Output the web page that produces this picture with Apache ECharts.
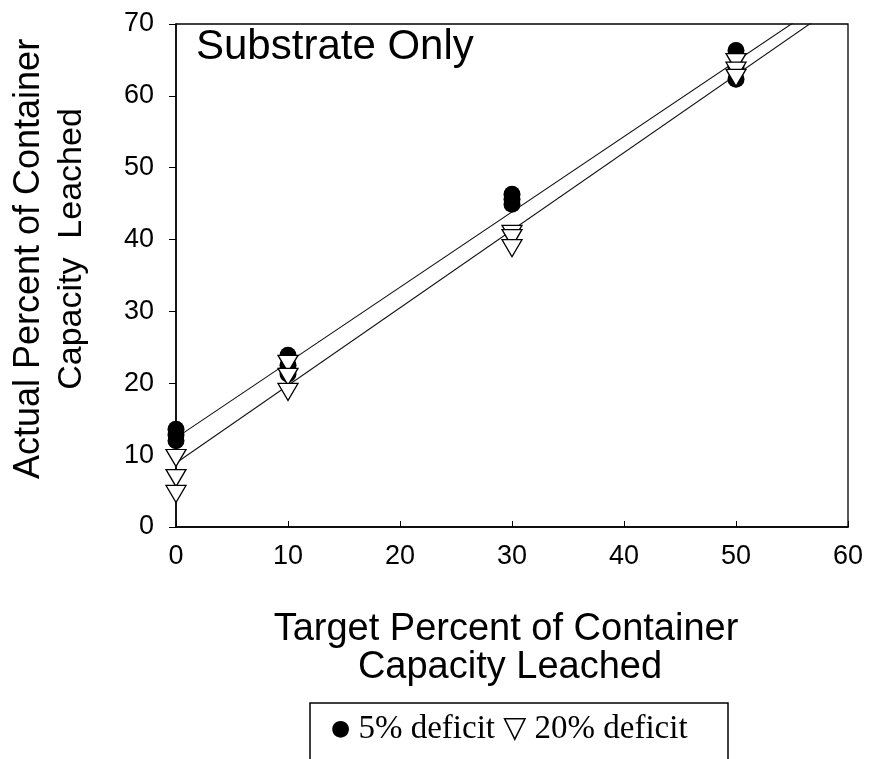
<!DOCTYPE html>
<html>
<head>
<meta charset="utf-8">
<script src="https://cdn.jsdelivr.net/npm/echarts@6/dist/echarts.min.js"></script>
<style>
  html, body { margin: 0; padding: 0; background: #ffffff; }
  #chart { width: 870px; height: 759px; }
</style>
</head>
<body>
<div id="chart"></div>
<script>
// Axis ticks
const xTicks = [0, 10, 20, 30, 40, 50, 60];
const yTicks = [0, 10, 20, 30, 40, 50, 60, 70];

// Target vs. actual percent leached, 5% water deficit (filled circles)
const deficit5 = [
  [0, 13.6], [0, 12.8], [0, 12.0],
  [10, 23.9], [10, 22.5], [10, 21.3],
  [30, 46.3], [30, 45.6], [30, 44.9],
  [50, 66.3], [50, 64.0], [50, 62.3]
];

// Target vs. actual percent leached, 20% water deficit (open down-triangles)
const deficit20 = [
  [0, 9.6], [0, 6.8], [0, 4.6],
  [10, 22.7], [10, 20.9], [10, 18.8],
  [30, 40.8], [30, 40.2], [30, 38.8],
  [50, 64.7], [50, 63.5], [50, 62.5]
];

// Fitted regression lines (end points)
const fit5 = [[0, 12.4], [60, 75.3]];
const fit20 = [[0, 8.9], [60, 73.7]];

const SANS = 'Arial, "Liberation Sans", Helvetica, sans-serif';
const SERIF = '"Times New Roman", "Liberation Serif", serif';

const chart = echarts.init(document.getElementById('chart'), null, { renderer: 'canvas' });

const downTriangle = 'path://M0,0 L20,0 L10,17 Z';

chart.setOption({
  animation: false,
  backgroundColor: '#ffffff',
  grid: {
    left: 176, right: 22, top: 24, bottom: 232,
    show: true, borderColor: '#000', borderWidth: 1.3, backgroundColor: 'transparent'
  },
  xAxis: {
    type: 'value',
    min: xTicks[0], max: xTicks[xTicks.length - 1], interval: 10,
    axisLine: { show: true, onZero: false, lineStyle: { color: '#000', width: 1.5 } },
    axisTick: { show: true, inside: true, length: 6, lineStyle: { color: '#000', width: 1 } },
    axisLabel: { color: '#000', fontFamily: SANS, fontSize: 27, margin: 16 },
    splitLine: { show: false }
  },
  yAxis: {
    type: 'value',
    min: yTicks[0], max: yTicks[yTicks.length - 1], interval: 10,
    axisLine: { show: true, onZero: false, lineStyle: { color: '#000', width: 1.5 } },
    axisTick: { show: true, inside: false, length: 7, lineStyle: { color: '#000', width: 1 } },
    axisLabel: { color: '#000', fontFamily: SANS, fontSize: 27, margin: 22 },
    splitLine: { show: false }
  },
  series: [
    {
      name: 'fit 5%', type: 'line', data: fit5, clip: true, symbol: 'none', silent: true,
      lineStyle: { color: '#111', width: 1.1 }, z: 1
    },
    {
      name: 'fit 20%', type: 'line', data: fit20, clip: true, symbol: 'none', silent: true,
      lineStyle: { color: '#111', width: 1.1 }, z: 1
    },
    {
      name: '5% deficit', type: 'scatter', data: deficit5,
      symbol: 'circle', symbolSize: 17,
      itemStyle: { color: '#000', borderColor: '#000', borderWidth: 0, opacity: 1 }, z: 2
    },
    {
      name: '20% deficit', type: 'scatter', data: deficit20,
      symbol: downTriangle, symbolSize: [20, 17],
      itemStyle: { color: '#fff', borderColor: '#000', borderWidth: 1.3, opacity: 1 }, z: 3
    }
  ],
  graphic: [
    {
      type: 'text', left: 196, top: 26, z: 10,
      style: { text: 'Substrate Only', font: '42px ' + SANS, fill: '#000' }
    },
    {
      type: 'text', x: 506, y: 630, z: 10,
      style: { text: 'Target Percent of Container', font: '38px ' + SANS, fill: '#000',
               align: 'center', verticalAlign: 'middle' }
    },
    {
      type: 'text', x: 510, y: 668, z: 10,
      style: { text: 'Capacity Leached', font: '38px ' + SANS, fill: '#000',
               align: 'center', verticalAlign: 'middle' }
    },
    {
      type: 'text', x: 29, y: 259, rotation: Math.PI / 2, z: 10,
      style: { text: 'Actual Percent of Container', font: '36px ' + SANS, fill: '#000',
               align: 'center', verticalAlign: 'middle' }
    },
    {
      type: 'text', x: 72, y: 249, rotation: Math.PI / 2, z: 10,
      style: { text: 'Capacity  Leached', font: '34px ' + SANS, fill: '#000',
               align: 'center', verticalAlign: 'middle' }
    },
    {
      type: 'rect', z: 10,
      shape: { x: 310, y: 703, width: 418, height: 80 },
      style: { fill: 'none', stroke: '#000', lineWidth: 1.5 }
    },
    {
      type: 'text', x: 331, y: 729, z: 11,
      style: {
        text: '{dot|●} 5% deficit {tri|▽} 20% deficit',
        font: '33px ' + SERIF, fill: '#000', verticalAlign: 'middle',
        rich: {
          dot: { fontFamily: '"DejaVu Sans"', fontSize: 22, fill: '#000' },
          tri: { fontFamily: '"DejaVu Sans"', fontSize: 30, fill: '#000' }
        }
      }
    }
  ]
});
</script>
</body>
</html>
